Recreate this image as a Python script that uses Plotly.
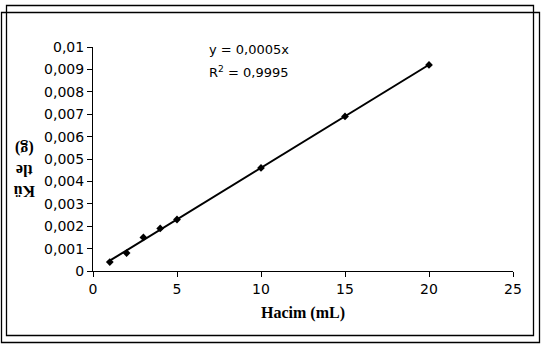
import numpy as np
import plotly.graph_objects as go

volume_ml = [1, 2, 3, 4, 5, 10, 15, 20]
mass_g = [0.0004, 0.0008, 0.0015, 0.0019, 0.0023, 0.0046, 0.0069, 0.0092]
x_ticks = [0, 5, 10, 15, 20, 25]
y_ticks = [0, 0.001, 0.002, 0.003, 0.004, 0.005, 0.006, 0.007, 0.008, 0.009, 0.01]
y_tick_labels = ["0", "0,001", "0,002", "0,003", "0,004", "0,005", "0,006",
                 "0,007", "0,008", "0,009", "0,01"]

W, H = 541, 344
L, R, T, B = 93, 28, 47, 73

xv = np.array(volume_ml, dtype=float)
yv = np.array(mass_g, dtype=float)
slope = float((xv * yv).sum() / (xv * xv).sum())
fit_x = [0.9, 20]
fit_y = [slope * v for v in fit_x]

fig = go.Figure()
fig.add_trace(go.Scatter(x=fit_x, y=fit_y, mode="lines",
                         line=dict(color="black", width=2),
                         showlegend=False, hoverinfo="skip"))
fig.add_trace(go.Scatter(x=volume_ml, y=mass_g, mode="markers",
                         marker=dict(symbol="diamond", size=6, color="black"),
                         showlegend=False, hoverinfo="skip"))

pw, ph = W - L - R, H - T - B
def px(x):
    return (x - L) / pw
def py(y):
    return (H - B - y) / ph

shapes = [
    dict(type="rect", xref="paper", yref="paper",
         x0=px(6.5), x1=px(533.5), y0=py(5.5), y1=py(335.5),
         line=dict(color="black", width=1.3), fillcolor="rgba(0,0,0,0)", layer="below"),
    dict(type="rect", xref="paper", yref="paper",
         x0=px(1.5), x1=px(539.5), y0=py(12.5), y1=py(342.5),
         line=dict(color="black", width=1.3), fillcolor="rgba(0,0,0,0)", layer="below"),
]

sans = "DejaVu Sans, Arial"
serif = "Liberation Serif, Times New Roman"
annotations = [
    dict(xref="paper", yref="paper", x=px(207), y=py(50), xanchor="left", yanchor="middle",
         text="y = 0,0005x", showarrow=False,
         font=dict(family=sans, size=13, color="black")),
    dict(xref="paper", yref="paper", x=px(207), y=py(72), xanchor="left", yanchor="middle",
         text="R<sup>2</sup> = 0,9995", showarrow=False,
         font=dict(family=sans, size=13, color="black")),
    dict(xref="paper", yref="paper", x=px(25), y=py(170), xanchor="center", yanchor="middle",
         text="<b>Kü<br>tle<br>(g)</b>", showarrow=False, textangle=180,
         font=dict(family=serif, size=16, color="black")),
    dict(xref="paper", yref="paper", x=px(303), y=py(313), xanchor="center", yanchor="middle",
         text="<b>Hacim (mL)</b>", showarrow=False,
         font=dict(family=serif, size=16, color="black")),
]

fig.update_layout(
    width=W, height=H,
    margin=dict(l=L, r=R, t=T, b=B, pad=0),
    paper_bgcolor="white", plot_bgcolor="white",
    shapes=shapes, annotations=annotations,
    font=dict(family=sans, size=14, color="black"),
    xaxis=dict(range=[0, 25], tickvals=x_ticks, ticks="outside", ticklen=5,
               tickcolor="black", showline=True, linecolor="black", linewidth=1,
               showgrid=False, zeroline=False, tickfont=dict(family=sans, size=14)),
    yaxis=dict(range=[0, 0.01], tickvals=y_ticks, ticktext=y_tick_labels,
               ticks="outside", ticklen=5, tickcolor="black", showline=True,
               linecolor="black", linewidth=1, showgrid=False, zeroline=False,
               tickfont=dict(family=sans, size=14)),
)

fig.write_html("out.html")
